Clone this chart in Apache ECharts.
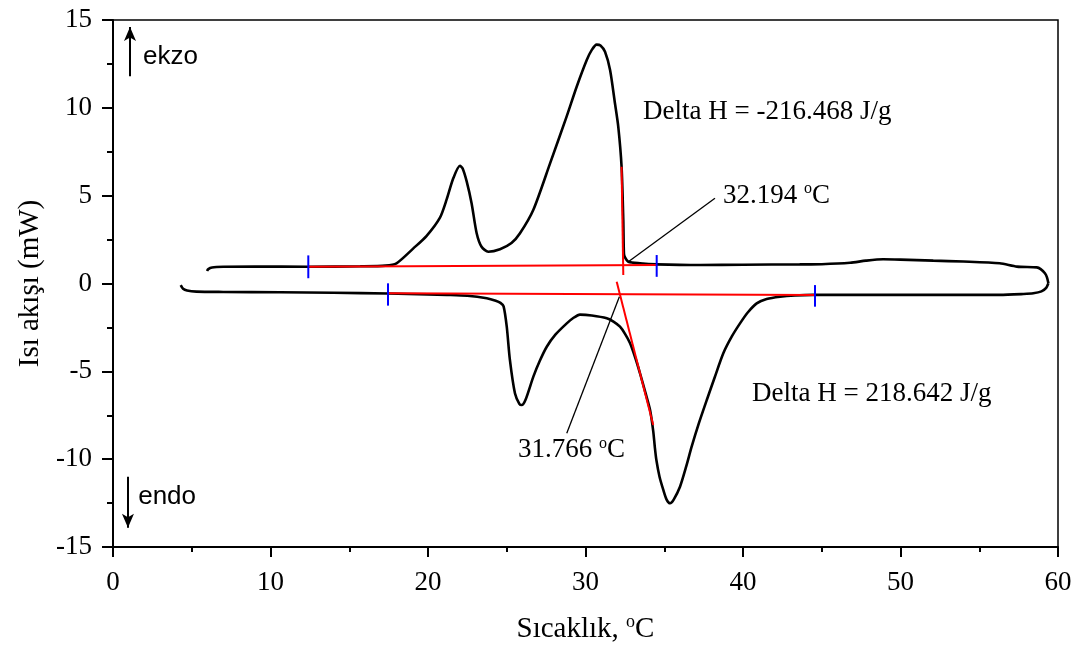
<!DOCTYPE html>
<html>
<head>
<meta charset="utf-8">
<title>DSC</title>
<script src="https://cdn.jsdelivr.net/npm/echarts@6/dist/echarts.min.js"></script>
<style>
  html, body { margin: 0; padding: 0; background: #fff; }
  #chart { width: 1081px; height: 650px; }
</style>
</head>
<body>
<div id="chart"></div>
<script>
// Axis ranges and ticks
const xTicks = [0, 10, 20, 30, 40, 50, 60];
const yTicks = [-15, -10, -5, 0, 5, 10, 15];

// Heating run (lower branch, endothermic), temperature rising
const heating = [
  [4.3, -0.09], [4.45, -0.3], [4.7, -0.4], [5.3, -0.46], [7, -0.48], [10.6, -0.5],
  [14, -0.53], [17.46, -0.57], [20, -0.62], [21.2, -0.65], [22.5, -0.7], [23.73, -0.84],
  [24.3, -0.98], [24.6, -1.1], [24.8, -1.3], [25.0, -2.46], [25.2, -4.35], [25.52, -6.25],
  [25.8, -6.85], [25.95, -6.92], [26.2, -6.6], [26.69, -5.3], [27.1, -4.4], [27.54, -3.6],
  [28.1, -2.9], [28.81, -2.27], [29.2, -1.98], [29.65, -1.77], [30.4, -1.82], [31.35, -1.98],
  [31.8, -2.18], [32.19, -2.46], [32.5, -2.85], [32.83, -3.4], [33.15, -4.2], [33.46, -5.11],
  [33.8, -6.2], [34.1, -7.2], [34.3, -8.4], [34.4, -9.3], [34.5, -10.05], [34.7, -11.0],
  [34.94, -11.75], [35.15, -12.3], [35.37, -12.51], [35.6, -12.3], [36.0, -11.57],
  [36.4, -10.4], [36.74, -9.29], [37.2, -7.95], [37.7, -6.63], [38.2, -5.35], [38.75, -3.97],
  [39.3, -3.0], [39.81, -2.27], [40.3, -1.65], [40.87, -1.13], [41.5, -0.88], [42.35, -0.75],
  [43.3, -0.68], [44.46, -0.65], [48, -0.65], [52.1, -0.65], [56.3, -0.65], [57.8, -0.6],
  [58.43, -0.56], [58.95, -0.45], [59.25, -0.25], [59.39, 0.01]
];

// Cooling run (upper branch, exothermic), temperature falling
const cooling = [
  [59.39, 0.01], [59.3, 0.35], [59.17, 0.58], [58.9, 0.82], [58.65, 0.92], [57.4, 0.96],
  [56.3, 1.15], [54, 1.25], [52.08, 1.3], [50, 1.36], [48.9, 1.38], [47.8, 1.3], [46.8, 1.18],
  [45, 1.1], [43.6, 1.09], [40, 1.07], [37.3, 1.05], [34.52, 1.09], [33.46, 1.15],
  [32.72, 1.24], [32.5, 1.5], [32.44, 1.72], [32.4, 3.61], [32.29, 6.65], [32.08, 8.93],
  [31.87, 10.26], [31.56, 12.15], [31.24, 13.19], [30.95, 13.55], [30.71, 13.6], [30.4, 13.3],
  [30.08, 12.72], [29.44, 11.2], [28.8, 9.5], [27.75, 6.84], [26.69, 4.2], [25.84, 2.86],
  [25.3, 2.3], [24.57, 1.95], [23.83, 1.81], [23.4, 2.09], [23.09, 2.86], [22.77, 4.56],
  [22.46, 5.8], [22.2, 6.55], [22.03, 6.7], [21.61, 6.0], [21.19, 4.8],
  [20.76, 3.75], [19.9, 2.7], [19.07, 2.0], [18.0, 1.15], [17.3, 1.02], [15.7, 0.98],
  [12.4, 0.95], [9, 0.97], [7, 0.95], [6.29, 0.91], [6.05, 0.82], [5.97, 0.71]
];

// Integration baselines and onset tangents (red)
const coolBaseline = [[12.4, 0.96], [34.52, 1.06]];
const coolTangent = [[32.29, 6.65], [32.4, 0.48]];
const heatBaseline = [[17.46, -0.56], [44.57, -0.65]];
const heatTangent = [[31.98, 0.1], [34.3, -8.05]];

// Integration limits (blue)
const limits = [
  [[12.4, 0.3], [12.4, 1.6]],
  [[34.52, 0.38], [34.52, 1.62]],
  [[17.46, 0.01], [17.46, -1.26]],
  [[44.57, -0.09], [44.57, -1.32]]
];

// Leader lines from onset points to their labels
const leaders = [
  [[32.72, 1.24], [38.22, 4.85]],
  [[32.15, -0.75], [28.81, -8.53]]
];

// Text notes: [x, y, text]
const notes = [
  [33.65, 9.75, 'Delta H = -216.468 J/g'],
  [40.57, -6.3, 'Delta H = 218.642 J/g'],
  [38.73, 5.0, '32.194 {sup|o}C'],
  [25.71, -9.5, '31.766 {sup|o}C']
];

// Direction arrows
const exoArrow = [[1.08, 11.8], [1.08, 14.6]];
const endoArrow = [[0.95, -11.0], [0.95, -13.9]];
const dirNotes = [
  [1.9, 12.9, 'ekzo'],
  [1.6, -12.15, 'endo']
];

const SERIF = '"Liberation Serif", "Times New Roman", serif';
const SANS = '"Liberation Sans", Arial, sans-serif';

function segment(data, color, width) {
  return {
    type: 'line', data: data, symbol: 'none', silent: true,
    lineStyle: { color: color, width: width }, z: 4
  };
}

function arrow(data) {
  return {
    type: 'line', data: [], symbol: 'none', silent: true,
    markLine: {
      silent: true, symbol: ['none', 'arrow'], symbolSize: [9, 14],
      label: { show: false },
      lineStyle: { color: '#000', width: 2, type: 'solid' },
      data: [[{ coord: data[0] }, { coord: data[1] }]]
    }
  };
}

function textLayer(items, family, size, rich) {
  return {
    type: 'scatter', symbolSize: 0, silent: true, z: 5,
    itemStyle: { opacity: 1 },
    data: items.map(n => ({ value: [n[0], n[1]], text: n[2] })),
    label: {
      show: true, position: 'right', distance: 0, opacity: 1,
      fontFamily: family, fontSize: size, color: '#000', lineHeight: 30,
      textBorderWidth: 0,
      formatter: p => p.data.text,
      rich: rich || {}
    }
  };
}

const chart = echarts.init(document.getElementById('chart'), null, { renderer: 'canvas' });

chart.setOption({
  animation: false,
  backgroundColor: '#fff',
  grid: {
    left: 113, right: 23, top: 20, bottom: 103,
    show: true, borderColor: '#000', borderWidth: 1.5,
    containLabel: false, outerBoundsMode: 'none'
  },
  xAxis: {
    type: 'value', min: xTicks[0], max: xTicks[xTicks.length - 1], interval: 10,
    name: 'Sıcaklık, {sup|o}C', nameLocation: 'middle', nameGap: 66,
    nameTextStyle: {
      fontFamily: SERIF, fontSize: 29, color: '#000', lineHeight: 32,
      rich: { sup: { fontFamily: SERIF, fontSize: 18, lineHeight: 18, verticalAlign: 'top', color: '#000' } }
    },
    axisLine: { show: true, onZero: false, lineStyle: { color: '#000', width: 2 } },
    axisTick: { show: true, inside: false, length: 10, lineStyle: { color: '#000', width: 2 } },
    minorTick: { show: true, splitNumber: 2, length: 5, lineStyle: { color: '#000', width: 2 } },
    axisLabel: { fontFamily: SERIF, fontSize: 27, color: '#000', margin: 22 },
    splitLine: { show: false }
  },
  yAxis: {
    type: 'value', min: yTicks[0], max: yTicks[yTicks.length - 1], interval: 5,
    name: 'Isı akışı (mW)', nameLocation: 'middle', nameGap: 68,
    nameTextStyle: { fontFamily: SERIF, fontSize: 29, color: '#000' },
    axisLine: { show: true, onZero: false, lineStyle: { color: '#000', width: 2 } },
    axisTick: { show: true, inside: false, length: 11, lineStyle: { color: '#000', width: 2 } },
    minorTick: { show: true, splitNumber: 2, length: 6, lineStyle: { color: '#000', width: 2 } },
    axisLabel: { fontFamily: SERIF, fontSize: 27, color: '#000', margin: 21 },
    splitLine: { show: false }
  },
  series: [
    {
      name: 'Isıtma', type: 'line', data: heating, symbol: 'none', smooth: 0.25,
      lineStyle: { color: '#000', width: 2.6 }, z: 3
    },
    {
      name: 'Soğutma', type: 'line', data: cooling, symbol: 'none', smooth: 0.25,
      lineStyle: { color: '#000', width: 2.6 }, z: 3
    },
    segment(coolBaseline, '#ff0000', 2),
    segment(coolTangent, '#ff0000', 2),
    segment(heatBaseline, '#ff0000', 2),
    segment(heatTangent, '#ff0000', 2),
    ...limits.map(d => segment(d, '#0000ff', 2)),
    ...leaders.map(d => segment(d, '#000', 1.3)),
    arrow(exoArrow),
    arrow(endoArrow),
    textLayer(notes, SERIF, 27, {
      sup: { fontFamily: SERIF, fontSize: 16, lineHeight: 16, verticalAlign: 'top', color: '#000' }
    }),
    textLayer(dirNotes, SANS, 26)
  ]
});
</script>
</body>
</html>
